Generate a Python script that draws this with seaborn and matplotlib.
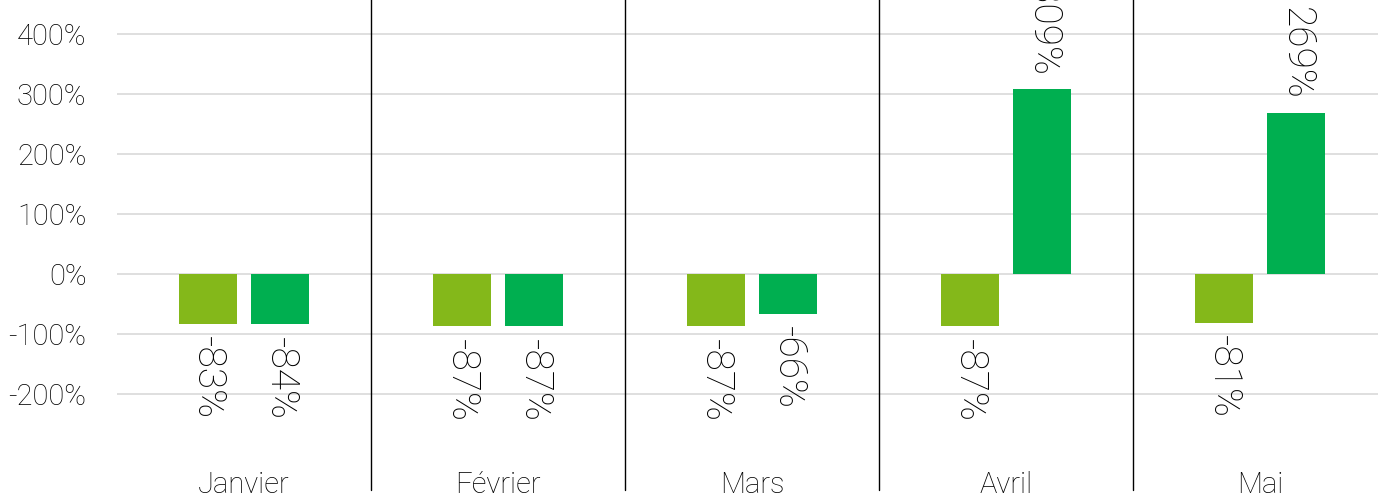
import matplotlib
matplotlib.use("Agg")
import matplotlib.pyplot as plt
import seaborn as sns
import pandas as pd

# === Données ===
mois = ["Janvier", "Février", "Mars", "Avril", "Mai"]
serie_1 = [-83, -87, -87, -87, -81]
serie_2 = [-84, -87, -66, 309, 269]
noms_series = ["Série 1", "Série 2"]
couleurs = ["#84b81a", "#00af50"]
graduations = [-200, -100, 0, 100, 200, 300, 400]

df = pd.DataFrame({
    "mois": mois * 2,
    "valeur": serie_1 + serie_2,
    "serie": [noms_series[0]] * len(mois) + [noms_series[1]] * len(mois),
})

sns.set_style("white")
plt.rcParams["font.family"] = ["Roboto", "DejaVu Sans"]
poids = "light"
encre = "#000000"

W, H = 1378, 498
fig = plt.figure(figsize=(W / 100, H / 100), dpi=100)
ax = fig.add_axes([117 / W, 0, (5 * 254) / W, 1])

sns.barplot(data=df, x="mois", y="valeur", hue="serie", order=mois,
            hue_order=noms_series, palette=couleurs, saturation=1,
            width=0.572, gap=0.2, linewidth=0, legend=False, ax=ax)

ax.set_xlim(-0.5, 4.5)
ax.set_ylim(-373.3, 456.7)

# === Grille et axes ===
ax.set_yticks(graduations)
ax.set_yticklabels([f"{g}%" for g in graduations], fontsize=21,
                   fontweight=poids, color=encre)
ax.tick_params(axis="y", length=0, pad=22)
ax.set_xticks([])
ax.set_xlabel("")
ax.set_ylabel("")
for s in ax.spines.values():
    s.set_visible(False)
for g in graduations:
    ax.axhline(g, color="#d9d9d9", lw=1.2, zorder=0)

# séparateurs entre les mois
for i in range(1, len(mois)):
    ax.plot([i - 0.5, i - 0.5], [-360, 470], color="black", lw=1,
            clip_on=False, zorder=1)

# noms des mois
for i, m in enumerate(mois):
    ax.text(i, -352, m, ha="center", va="center", fontsize=21,
            fontweight=poids, color=encre)

# === Étiquettes de valeurs ===
for cont in ax.containers:
    for rect in cont:
        v = rect.get_height()
        x = rect.get_x() + rect.get_width() / 2
        if v < 0:
            ax.annotate(f"{v:.0f}%", (x, v), xytext=(0, -9),
                        textcoords="offset points", rotation=270,
                        ha="center", va="top", fontsize=28,
                        fontweight=poids, color=encre)
        else:
            ax.annotate(f"{v:.0f}%", (x, v), xytext=(0, 9),
                        textcoords="offset points", rotation=270,
                        ha="center", va="bottom", fontsize=28,
                        fontweight=poids, color=encre)

fig.savefig("out.png", dpi=100)
